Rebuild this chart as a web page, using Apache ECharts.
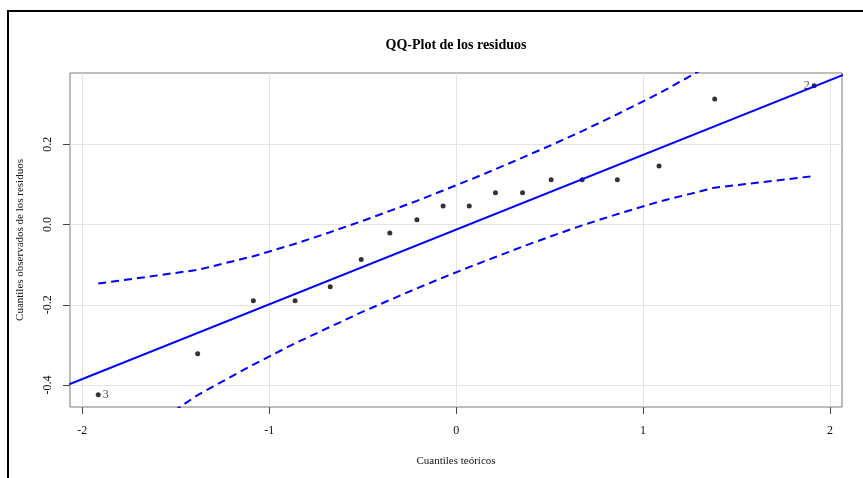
<!DOCTYPE html>
<html><head><meta charset="utf-8">
<script src="https://cdn.jsdelivr.net/npm/echarts@6/dist/echarts.min.js"></script>
<style>html,body{margin:0;padding:0;background:#fff}#c{width:863px;height:478px}</style>
</head><body><div id="c"></div>
<script>
// Theoretical normal quantiles (x) and observed residual quantiles (y)
const theoreticalQ = [-1.915, -1.383, -1.085, -0.862, -0.674, -0.508, -0.355, -0.210, -0.070,
                       0.070,  0.210,  0.355,  0.508,  0.674,  0.862,  1.085,  1.383,  1.915];
const residuals    = [-0.424, -0.322, -0.190, -0.190, -0.155, -0.087, -0.021,  0.012,  0.046,
                       0.046,  0.079,  0.079,  0.112,  0.112,  0.112,  0.146,  0.313,  0.346];
// Confidence envelope (dashed)
const upperEnv = [-0.147, -0.113, -0.079, -0.048, -0.019, 0.008, 0.034, 0.059, 0.085,
                   0.111,  0.138,  0.167,  0.198,  0.233, 0.275, 0.327, 0.404, 0.570];
const lowerEnv = [-0.592, -0.425, -0.349, -0.296, -0.255, -0.219, -0.188, -0.159, -0.132,
                  -0.106, -0.081, -0.055, -0.029, -0.002,  0.026,  0.057,  0.092,  0.121];
// Reference line end points
const refLineX = [-2.07, 2.07];
const refLineY = [-0.398, 0.373];
// Point labels (index -> text)
const pointLabels = {0: '3', 17: '2'};
const xTicks = [-2, -1, 0, 1, 2];
const yTicks = [-0.4, -0.2, 0.0, 0.2];
const titleText = 'QQ-Plot de los residuos';
const xName = 'Cuantiles teóricos';
const yName = 'Cuantiles observados de los residuos';

const serif = '"Liberation Serif", "DejaVu Serif", serif';
const blue = '#0000ff';

const chart = echarts.init(document.getElementById('c'), null, {renderer: 'canvas'});

const pts = theoreticalQ.map((x, i) => {
  const d = {value: [x, residuals[i]]};
  if (pointLabels[i] !== undefined) {
    d.label = {show: true, formatter: pointLabels[i], position: i === 0 ? 'right' : 'left',
      distance: 2, fontFamily: serif, fontSize: 12, color: '#222'};
  }
  return d;
});

chart.setOption({
  animation: false,
  backgroundColor: '#fff',
  grid: {left: 70, top: 73, width: 772, height: 334, show: true, borderColor: '#7a7a7a', borderWidth: 1, backgroundColor: 'transparent'},
  xAxis: {
    type: 'value', min: -2.066, max: 2.064,
    axisLine: {show: false, onZero: false},
    axisTick: {show: true, length: 7, customValues: xTicks, lineStyle: {color: '#444'}},
    axisLabel: {customValues: xTicks, margin: 18, fontFamily: serif, fontSize: 12, color: '#111',
      formatter: v => String(Math.round(v))},
    splitLine: {show: true, lineStyle: {color: '#e4e4e4', width: 1}}
  },
  yAxis: {
    type: 'value', min: -0.4548, max: 0.3778,
    axisLine: {show: false, onZero: false},
    axisTick: {show: true, length: 7, customValues: yTicks, lineStyle: {color: '#444'}},
    axisLabel: {customValues: yTicks, margin: 16, rotate: 90, fontFamily: serif, fontSize: 12, color: '#111',
      formatter: v => v.toFixed(1)},
    splitLine: {show: true, lineStyle: {color: '#e4e4e4', width: 1}}
  },
  graphic: [
    {type: 'rect', shape: {x: 8, y: 11, width: 900, height: 520}, style: {fill: 'none', stroke: '#000', lineWidth: 2}, silent: true},
    {type: 'text', x: 456, y: 45, style: {text: titleText, font: 'bold 14px ' + serif, fill: '#000', textAlign: 'center', textVerticalAlign: 'middle'}},
    {type: 'text', x: 456, y: 461, style: {text: xName, font: '11px ' + serif, fill: '#111', textAlign: 'center', textVerticalAlign: 'middle'}},
    {type: 'text', x: 20, y: 240, rotation: Math.PI / 2, style: {text: yName, font: '11px ' + serif, fill: '#111', textAlign: 'center', textVerticalAlign: 'middle'}}
  ],
  series: [
    {type: 'scatter', data: pts, symbol: 'circle', symbolSize: 5, itemStyle: {color: '#000'}, z: 3},
    {type: 'line', data: refLineX.map((x, i) => [x, refLineY[i]]), symbol: 'none', clip: true,
      lineStyle: {color: blue, width: 2}, z: 4},
    {type: 'line', data: theoreticalQ.map((x, i) => [x, upperEnv[i]]), symbol: 'none', clip: true,
      lineStyle: {color: blue, width: 2, type: [8, 5]}, z: 4},
    {type: 'line', data: theoreticalQ.map((x, i) => [x, lowerEnv[i]]), symbol: 'none', clip: true,
      lineStyle: {color: blue, width: 2, type: [8, 5]}, z: 4}
  ]
});
</script>
</body></html>
